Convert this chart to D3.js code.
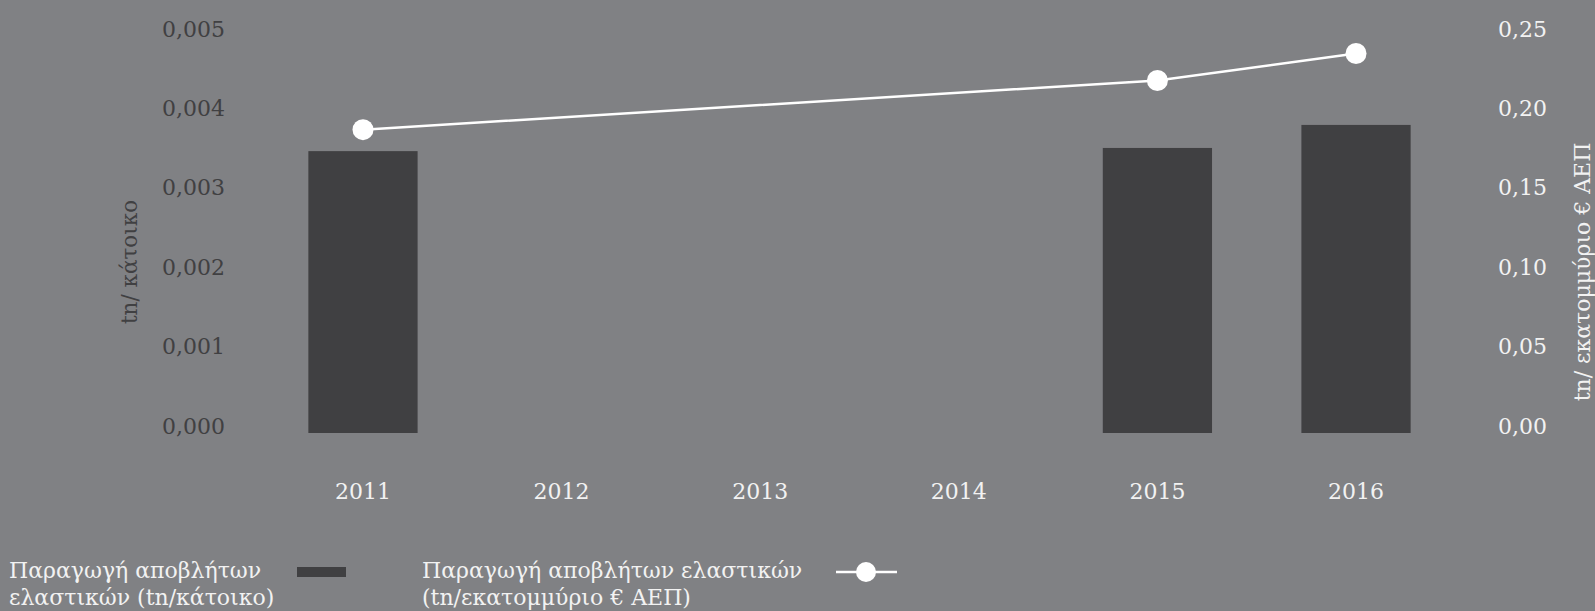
<!DOCTYPE html>
<html lang="el">
<head>
<meta charset="UTF-8">
<title>Παραγωγή αποβλήτων ελαστικών</title>
<script src="https://d3js.org/d3.v7.min.js"></script>
<style>
  html, body { margin: 0; padding: 0; background: #808184; }
  svg { display: block; font-family: "DejaVu Serif", "Liberation Serif", serif; }
</style>
</head>
<body>
<div id="chart"></div>
<script>
// data
const years = ["2011", "2012", "2013", "2014", "2015", "2016"];
const perCapita = [0.00355, null, null, null, 0.00359, 0.00388];   // tn/κάτοικο (bars)
const perGdp = [0.191, null, null, null, 0.222, 0.239];            // tn/εκατομμύριο € ΑΕΠ (line)
const leftTicks = [0, 0.001, 0.002, 0.003, 0.004, 0.005];
const rightTicks = [0, 0.05, 0.10, 0.15, 0.20, 0.25];

const width = 1595, height = 611;
const bg = "#808184", barColor = "#404042", darkText = "#404042", lightText = "#f2f2f2";
const font = "'DejaVu Serif', 'Liberation Serif', serif";

const grLocale = d3.formatLocale({ decimal: ",", thousands: ".", grouping: [3], currency: ["€", ""] });

const svg = d3.select("#chart").append("svg")
    .attr("width", width)
    .attr("height", height);

svg.append("rect").attr("width", width).attr("height", height).attr("fill", bg);

const x = d3.scaleBand()
    .domain(years)
    .range([219, 1500])
    .padding(0.45);

const yL = d3.scaleLinear().domain([0, 0.005]).range([433, 36]);
const yR = d3.scaleLinear().domain([0, 0.25]).range([433, 36]);

// left axis
const leftAxis = svg.append("g")
    .attr("transform", "translate(225,-7)")
    .call(d3.axisLeft(yL).tickValues(leftTicks).tickSize(0).tickPadding(0).tickFormat(grLocale.format(".3f")))
    .attr("font-family", font)
    .attr("font-size", 22);
leftAxis.select(".domain").remove();
leftAxis.selectAll("text").attr("fill", darkText);

// right axis
const rightAxis = svg.append("g")
    .attr("transform", "translate(1498,-7)")
    .call(d3.axisRight(yR).tickValues(rightTicks).tickSize(0).tickPadding(0).tickFormat(grLocale.format(".2f")))
    .attr("font-family", font)
    .attr("font-size", 22);
rightAxis.select(".domain").remove();
rightAxis.selectAll("text").attr("fill", lightText);

// axis titles
svg.append("text")
    .attr("transform", "translate(129,262) rotate(-90)")
    .attr("text-anchor", "middle")
    .attr("dy", "0.35em")
    .attr("fill", darkText)
    .attr("font-size", 21.5)
    .text("tn/ κάτοικο");

svg.append("text")
    .attr("transform", "translate(1582,272) rotate(-90)")
    .attr("text-anchor", "middle")
    .attr("dy", "0.35em")
    .attr("fill", lightText)
    .attr("font-size", 22)
    .text("tn/ εκατομμύριο € ΑΕΠ");

// x axis labels
const xAxis = svg.append("g")
    .attr("transform", "translate(0,491)")
    .call(d3.axisBottom(x).tickSize(0).tickPadding(0))
    .attr("font-family", font)
    .attr("font-size", 22);
xAxis.select(".domain").remove();
xAxis.selectAll("text")
    .attr("fill", lightText)
    .attr("dy", "0.35em");

// bars
const barData = years.map((y, i) => ({ year: y, v: perCapita[i] })).filter(d => d.v != null);
svg.append("g").selectAll("rect")
    .data(barData)
    .enter().append("rect")
    .attr("x", d => x(d.year))
    .attr("width", x.bandwidth())
    .attr("y", d => yL(d.v))
    .attr("height", d => yL(0) - yL(d.v))
    .attr("fill", barColor);

// line
const lineData = years.map((y, i) => ({ year: y, v: perGdp[i] })).filter(d => d.v != null);
const line = d3.line()
    .x(d => x(d.year) + x.bandwidth() / 2)
    .y(d => yR(d.v));

svg.append("path")
    .datum(lineData)
    .attr("d", line)
    .attr("fill", "none")
    .attr("stroke", "#ffffff")
    .attr("stroke-width", 2.5);

svg.append("g").selectAll("circle")
    .data(lineData)
    .enter().append("circle")
    .attr("cx", d => x(d.year) + x.bandwidth() / 2)
    .attr("cy", d => yR(d.v))
    .attr("r", 10.5)
    .attr("fill", "#ffffff");

// legend
const legend = svg.append("g").attr("fill", lightText).attr("font-size", 22);
const leg1 = legend.append("text").attr("x", 9).attr("y", 578);
leg1.append("tspan").attr("x", 9).text("Παραγωγή αποβλήτων");
leg1.append("tspan").attr("x", 9).attr("dy", 27).text("ελαστικών (tn/κάτοικο)");

legend.append("rect")
    .attr("x", 297).attr("y", 567)
    .attr("width", 49).attr("height", 10)
    .attr("fill", barColor);

const leg2 = legend.append("text").attr("x", 422).attr("y", 578);
leg2.append("tspan").attr("x", 422).text("Παραγωγή αποβλήτων ελαστικών");
leg2.append("tspan").attr("x", 422).attr("dy", 27).text("(tn/εκατομμύριο € ΑΕΠ)");

legend.append("line")
    .attr("x1", 836).attr("x2", 897)
    .attr("y1", 572).attr("y2", 572)
    .attr("stroke", "#ffffff").attr("stroke-width", 2.5);
legend.append("circle")
    .attr("cx", 866).attr("cy", 572).attr("r", 10)
    .attr("fill", "#ffffff");
</script>
</body>
</html>
